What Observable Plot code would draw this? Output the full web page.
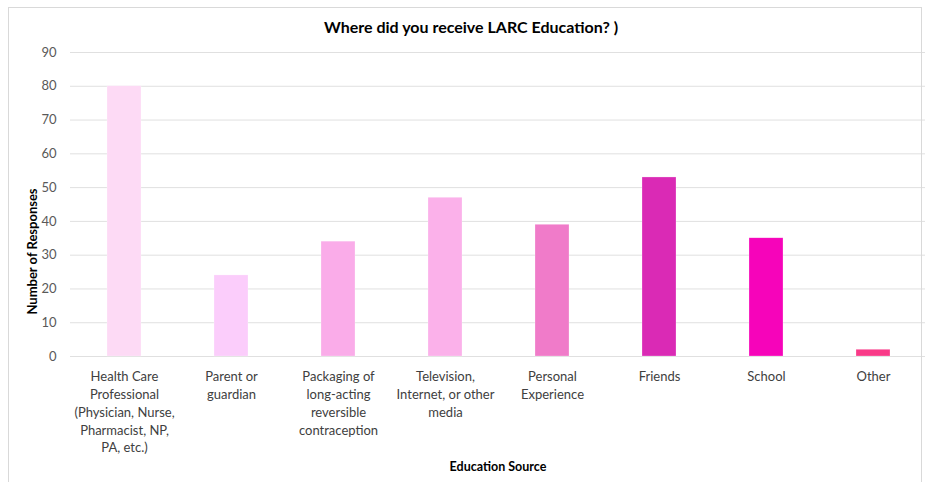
<!DOCTYPE html>
<html>
<head>
<meta charset="utf-8">
<script src="https://cdn.jsdelivr.net/npm/d3@7"></script>
<script src="https://cdn.jsdelivr.net/npm/@observablehq/plot@0.6"></script>
<style>
  html, body { margin: 0; padding: 0; background: #fff; }
  #wrap { position: relative; width: 925px; height: 482px; overflow: hidden; }
  #border { position: absolute; left: 8px; top: 7px; width: 914px; height: 480px; border: 1px solid #d9d9d9; box-sizing: border-box; pointer-events: none; }
  svg { font-family: Lato, "Open Sans", sans-serif; }
</style>
</head>
<body>
<div id="wrap"><div id="border"></div></div>
<script>
const categories = [
  "Health Care Professional (Physician, Nurse, Pharmacist, NP, PA, etc.)",
  "Parent or guardian",
  "Packaging of long-acting reversible contraception",
  "Television, Internet, or other media",
  "Personal Experience",
  "Friends",
  "School",
  "Other"
];
const tickLabels = [
  "Health Care\nProfessional\n(Physician, Nurse,\nPharmacist, NP,\nPA, etc.)",
  "Parent or\nguardian",
  "Packaging of\nlong-acting\nreversible\ncontraception",
  "Television,\nInternet, or other\nmedia",
  "Personal\nExperience",
  "Friends",
  "School",
  "Other"
];
const responses = [80, 24, 34, 47, 39, 53, 35, 2];
const colors = ["#FDDAF5", "#FBCDFB", "#FAACE9", "#FBB1EA", "#F07BC9", "#DA2AB5", "#F604BA", "#F93A88"];
const yTicks = [0, 10, 20, 30, 40, 50, 60, 70, 80, 90];
const title = "Where did you receive LARC Education? )";
const xTitle = "Education Source";
const yTitle = "Number of Responses";

const data = categories.map((c, i) => ({category: c, value: responses[i], color: colors[i]}));
const labelOf = new Map(categories.map((c, i) => [c, tickLabels[i]]));

const chart = Plot.plot({
  width: 925,
  height: 482,
  marginTop: 52,
  marginBottom: 126,
  marginLeft: 70,
  marginRight: 0,
  style: {fontFamily: "Lato, 'Open Sans', sans-serif", background: "transparent"},
  x: {domain: categories, range: [70.5, 927], paddingInner: 0.68, paddingOuter: 0.34, label: null},
  y: {domain: [0, 90], label: null},
  marks: [
    Plot.gridY(yTicks, {stroke: "#e0e0e0", strokeOpacity: 1, strokeWidth: 1}),
    Plot.barY(data, {x: "category", y: "value", fill: "color", stroke: "#ffffff", strokeOpacity: 0.5, strokeWidth: 0.5}),
    Plot.axisY(yTicks, {tickSize: 0, tickPadding: 14, fontSize: 13, color: "#595959", label: null}),
    Plot.axisX({tickSize: 0, tickPadding: 12, fontSize: 13, color: "#404040", lineHeight: 1.37, lineAnchor: "top", tickFormat: d => labelOf.get(d), label: null}),
    Plot.text([title], {frameAnchor: "top", dy: -31, dx: -27, fontSize: 16, fontWeight: "bold", fill: "#000"}),
    Plot.text([xTitle], {frameAnchor: "bottom", dy: 114, dx: 0, fontSize: 12.5, fontWeight: "bold", fill: "#000"}),
    Plot.text([yTitle], {frameAnchor: "left", textAnchor: "middle", dx: -38, dy: 47, rotate: -90, fontSize: 13, fontWeight: "bold", fill: "#000"})
  ]
});
document.getElementById("wrap").prepend(chart);
</script>
</body>
</html>
